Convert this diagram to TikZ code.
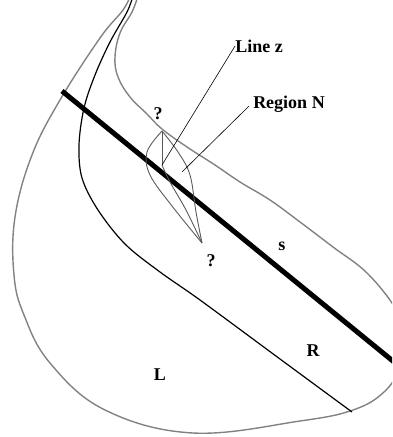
\documentclass[tikz,border=0pt]{standalone}
\usepackage{fontspec}
\setmainfont{Liberation Serif}
\usepackage{tikz}
\usetikzlibrary{calc}
\definecolor{edgegray}{RGB}{130, 130, 130}
\definecolor{lensgray}{RGB}{90, 90, 90}
\tikzset{
  outline/.style={draw=edgegray, line width=1.4pt},
  sepline/.style={draw=black, line width=1.2pt},
  cutline/.style={draw=black, line width=5pt},
  lens/.style={draw=lensgray, line width=0.9pt},
  ptr/.style={draw=black, line width=0.6pt},
  lbl/.style={font=\fontsize{18}{20}\selectfont\bfseries, inner sep=0pt}
}

\begin{document}
\begin{tikzpicture}[x=1pt, y=-1pt]
  \useasboundingbox (0,0) rectangle (392,437);
  \clip (0,0) rectangle (392,437);

  % ---- Outer region (gray) ----
  \draw[outline] plot[smooth, tension=0.65] coordinates {
    (131,-6) (123,10) (100,38) (60,100) (32,155) (15,217) (14,275)
    (24,315) (50,363) (105,410) (193,433) (300,421) (353,410)
    (384,392) (402,365) (408,338) (396,309) (367,273) (333,247)
    (300,222) (270,200) (240,182) (215,165) (187,147) (162,129)
    (147,114) (130,97) (118,77) (115,57) (120,33) (132,12) (138,-4)};

  % ---- Separating curve (thin black) ----
  \draw[sepline] plot[smooth, tension=0.55] coordinates {
    (133,-4) (127,12) (110,42) (95,75) (84,108) (79,145)
    (82,178) (98,210) (125,244) (160,272) (200,300) (280,359)
    (352,412)};

  % ---- Thick line ----
  \coordinate (cutA) at (62,91);
  \coordinate (cutB) at (410,375);
  \draw[cutline] (cutA) -- (cutB);

  % ---- Region N (lens) ----
  \coordinate (top) at (162,131);
  \coordinate (bot) at (202,243);
  \coordinate (ztip) at (162,165);
  \coordinate (ntip) at (182,172);
  \draw[lens] plot[smooth, tension=0.6] coordinates {(162,131) (147,152) (150,175) (172,206) (202,243)};
  \draw[lens] plot[smooth, tension=0.6] coordinates {(162,131) (178,152) (190,175) (196,212) (202,243)};
  \draw[lens] plot[smooth, tension=0.6] coordinates {(162,165) (170,182) (186,210) (202,243)};
  \draw[lens] (top) -- (ztip);

  % ---- Labels ----
  \node[lbl] (linez)   at (259,46)  {Line z};
  \node[lbl] (regionn) at (289,104) {Region N};
  \node[lbl] (qtop)    at (158,114) {?};
  \node[lbl] (qbot)    at (211,261) {?};
  \node[lbl] (sside)   at (282,246) {s};
  \node[lbl] (rside)   at (313,351) {R};
  \node[lbl] (lside)   at (160,375) {L};

  % pointers
  \draw[ptr] (linez.west) -- (ztip);
  \draw[ptr] ($(regionn.west)+(-4,2)$) -- (ntip);
\end{tikzpicture}
\end{document}
